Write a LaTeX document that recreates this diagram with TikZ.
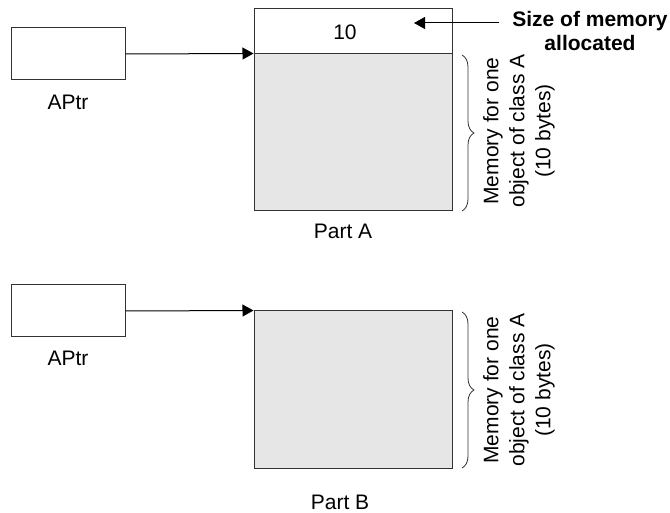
\documentclass[tikz,border=0pt]{standalone}
\usepackage{fontspec}
\setmainfont{Liberation Sans}
\usetikzlibrary{arrows.meta,decorations.pathreplacing}
\definecolor{memgray}{HTML}{E6E6E7}
\definecolor{edge}{HTML}{333333}
\begin{document}
\begin{tikzpicture}[x=1pt,y=-1pt,
  every node/.style={font=\fontsize{21}{26}\selectfont},
  ptrbox/.style={draw=edge,line width=1pt,minimum width=114pt,minimum height=52pt,inner sep=0pt},
  sizecell/.style={draw=edge,line width=1pt,minimum width=198pt,minimum height=45pt,inner sep=0pt},
  memcell/.style={draw=edge,line width=1pt,fill=memgray,minimum width=198pt,minimum height=157pt,inner sep=0pt},
  arr/.style={line width=1pt,-{Triangle[length=11pt,width=12pt]}},
  brc/.style={line width=0.8pt,edge,decorate,decoration={brace,amplitude=12pt,aspect=0.5}},
  memlabel/.style={rotate=90,align=center,inner sep=0pt}]
\useasboundingbox (0,0) rectangle (670,513);
% Part A
\node[ptrbox] (p1) at (68,54) {};
\node (l1) at (68,102) {APtr};
\node[sizecell] (a10) at (353,31.5) {};
\node (n10) at (345,32) {10};
\node[memcell] (amem) at (353,132.5) {};
\node (pa) at (343,231) {Part A};
\draw[arr] (p1.east) -- (amem.north west);
\node[font=\fontsize{21}{24}\selectfont\bfseries,align=center,inner xsep=13pt,inner ysep=0pt] (sz) at (590,31) {Size of memory\\allocated};
\coordinate (tipA) at (414,23);
\draw[arr] (sz.west |- tipA) -- (tipA);
\coordinate (bAt) at (462,55);
\coordinate (bAb) at (462,211);
\draw[brc] (bAt) -- (bAb);
\node[memlabel] (mA) at (519,131) {Memory for one\\object of class A\\(10 bytes)};
% Part B
\node[ptrbox] (p2) at (68,311) {};
\node (l2) at (68,358) {APtr};
\node[memcell] (bmem) at (353,389.5) {};
\node (pb) at (340,502) {Part B};
\draw[arr] (p2.east) -- (bmem.north west);
\coordinate (bBt) at (462,312);
\coordinate (bBb) at (462,468);
\draw[brc] (bBt) -- (bBb);
\node[memlabel] (mB) at (519,390) {Memory for one\\object of class A\\(10 bytes)};
\end{tikzpicture}
\end{document}
